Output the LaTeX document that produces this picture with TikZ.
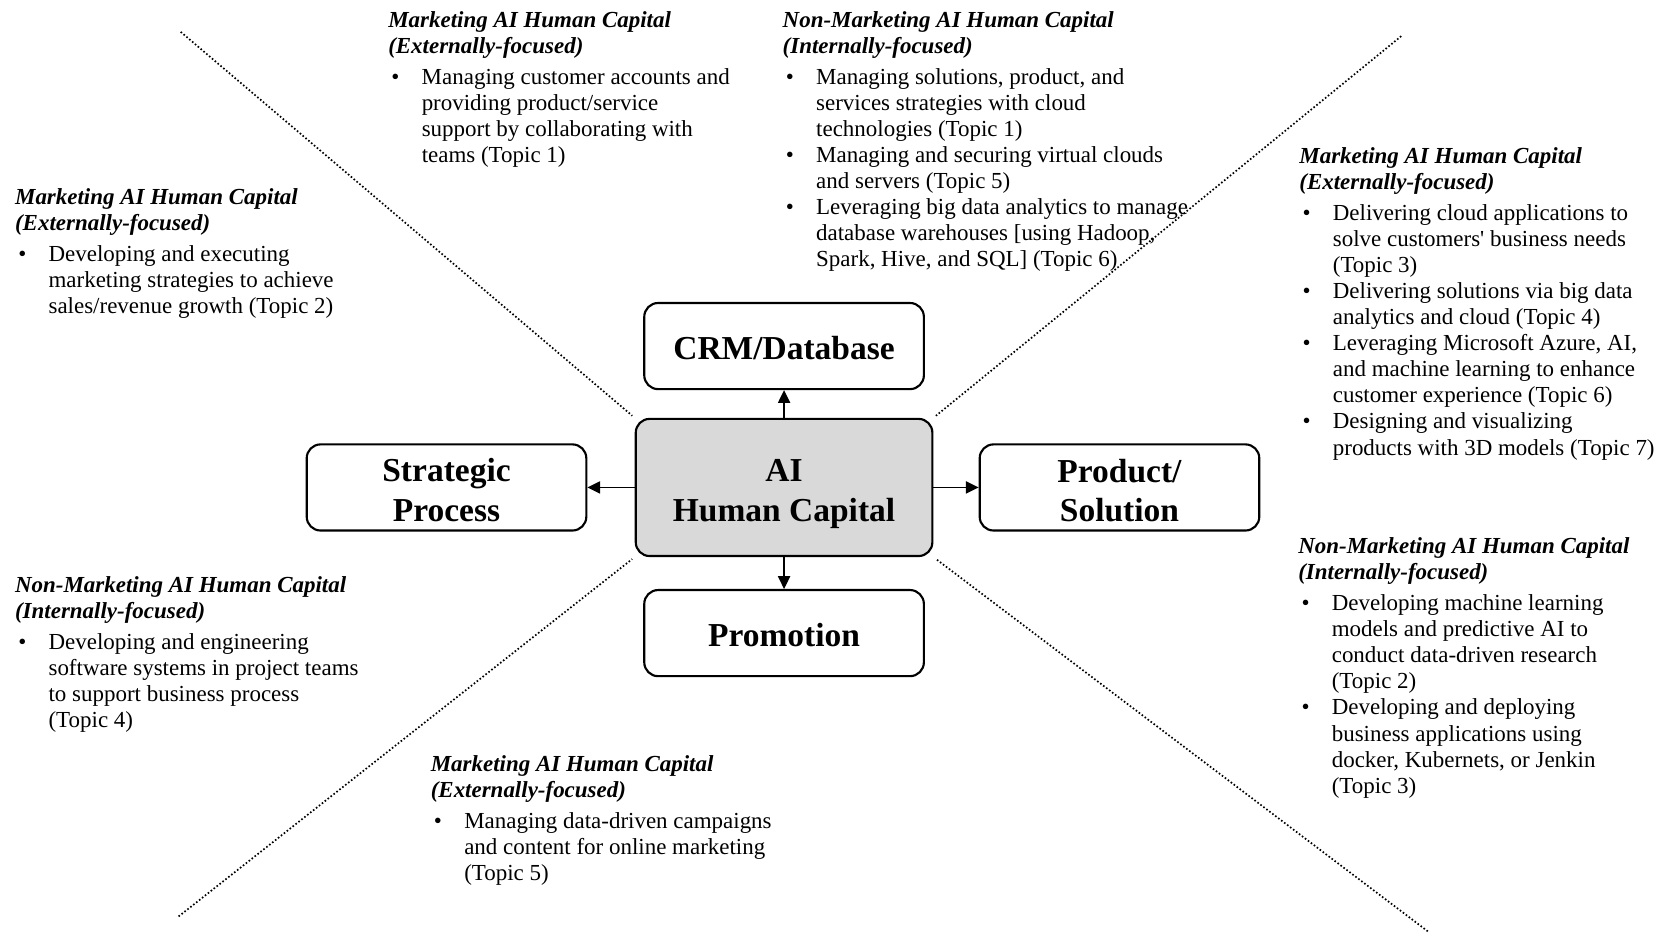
\documentclass[tikz,border=0pt]{standalone}
\usepackage{fontspec}
\newfontfamily\fbody{Liberation Serif}
\usetikzlibrary{arrows.meta}
\definecolor{boxgray}{HTML}{D9D9D9}
\newcommand{\bul}{\makebox[31.5pt][l]{\hspace{3pt}•}}
\newcommand{\ind}{\hspace*{31.5pt}}
\newcommand{\hd}[1]{\textbf{\textit{#1}}}
\newcommand{\tstrut}[1]{\rule{0pt}{#1}}
\begin{document}
\begin{tikzpicture}[x=1pt,y=-1pt,
  box/.style={draw, line width=2pt, rounded corners=13pt, minimum width=263pt, minimum height=81pt,
    align=center, inner sep=0pt, font=\fbody\fontsize{31.5}{37}\selectfont\bfseries},
  blk/.style={anchor=base west, align=left, inner sep=0pt, font=\fbody\fontsize{21.6}{24.5}\selectfont},
  arr/.style={line width=1.2pt, -{Triangle[length=12pt,width=11.5pt]}},
  sepline/.style={line width=1.6pt, dash pattern=on 1.5pt off 2pt, shorten >=3pt}]
\useasboundingbox (0,0) rectangle (1568,879);

% dotted separators
\coordinate (tl) at (170,30);
\coordinate (tr) at (1318,34);
\coordinate (bl) at (168,862);
\coordinate (br) at (1343,876);

% boxes
\node[box, fill=boxgray, minimum width=279pt, minimum height=129pt] (c) at (737.5,458.5) {\tstrut{33pt}AI\\Human Capital};
\node[box] (crm) at (737.5,325.5) {\tstrut{26pt}CRM/Database};
\node[box] (sp) at (420,458.5) {\tstrut{27pt}Strategic\\Process};
\node[box] (ps) at (1053,458.5) {\tstrut{27.5pt}Product/\\Solution};
\node[box] (pr) at (737.5,595.5) {\tstrut{26pt}Promotion};

\draw[sepline] (tl) -- (c.north west);
\draw[sepline] (tr) -- (c.north east);
\draw[sepline] (bl) -- (c.south west);
\draw[sepline] (br) -- (c.south east);

% arrows
\draw[arr] (c.north) -- (crm.south);
\draw[arr] (c.west) -- (sp.east);
\draw[arr] (c.east) -- (ps.west);
\draw[arr] (c.south) -- (pr.north);

% text blocks (anchored at the baseline of their last line)
\node[blk] (ta) at (365,153) {\hd{Marketing AI Human Capital}\\
\hd{(Externally-focused)}\\[4.5pt]
\bul Managing customer accounts and\\
\ind providing product/service\\
\ind support by collaborating with\\
\ind teams (Topic 1)};

\node[blk] (tb) at (736,251) {\hd{Non-Marketing AI Human Capital}\\
\hd{(Internally-focused)}\\[4.5pt]
\bul Managing solutions, product, and\\
\ind services strategies with cloud\\
\ind technologies (Topic 1)\\
\bul Managing and securing virtual clouds\\
\ind and servers (Topic 5)\\
\bul Leveraging big data analytics to manage\\
\ind database warehouses [using Hadoop,\\
\ind Spark, Hive, and SQL] (Topic 6)};

\node[blk] (tc) at (14,294.5) {\hd{Marketing AI Human Capital}\\
\hd{(Externally-focused)}\\[4.5pt]
\bul Developing and executing\\
\ind marketing strategies to achieve\\
\ind sales/revenue growth (Topic 2)};

\node[blk] (td) at (1222,428) {\hd{Marketing AI Human Capital}\\
\hd{(Externally-focused)}\\[4.5pt]
\bul Delivering cloud applications to\\
\ind solve customers' business needs\\
\ind (Topic 3)\\
\bul Delivering solutions via big data\\
\ind analytics and cloud (Topic 4)\\
\bul Leveraging Microsoft Azure, AI,\\
\ind and machine learning to enhance\\
\ind customer experience (Topic 6)\\
\bul Designing and visualizing\\
\ind products with 3D models (Topic 7)};

\node[blk] (te) at (14,684) {\hd{Non-Marketing AI Human Capital}\\
\hd{(Internally-focused)}\\[4.5pt]
\bul Developing and engineering\\
\ind software systems in project teams\\
\ind to support business process\\
\ind (Topic 4)};

\node[blk] (tf) at (1221,746) {\hd{Non-Marketing AI Human Capital}\\
\hd{(Internally-focused)}\\[4.5pt]
\bul Developing machine learning\\
\ind models and predictive AI to\\
\ind conduct data-driven research\\
\ind (Topic 2)\\
\bul Developing and deploying\\
\ind business applications using\\
\ind docker, Kubernets, or Jenkin\\
\ind (Topic 3)};

\node[blk] (tg) at (405,828.5) {\hd{Marketing AI Human Capital}\\
\hd{(Externally-focused)}\\[4.5pt]
\bul Managing data-driven campaigns\\
\ind and content for online marketing\\
\ind (Topic 5)};
\end{tikzpicture}
\end{document}
